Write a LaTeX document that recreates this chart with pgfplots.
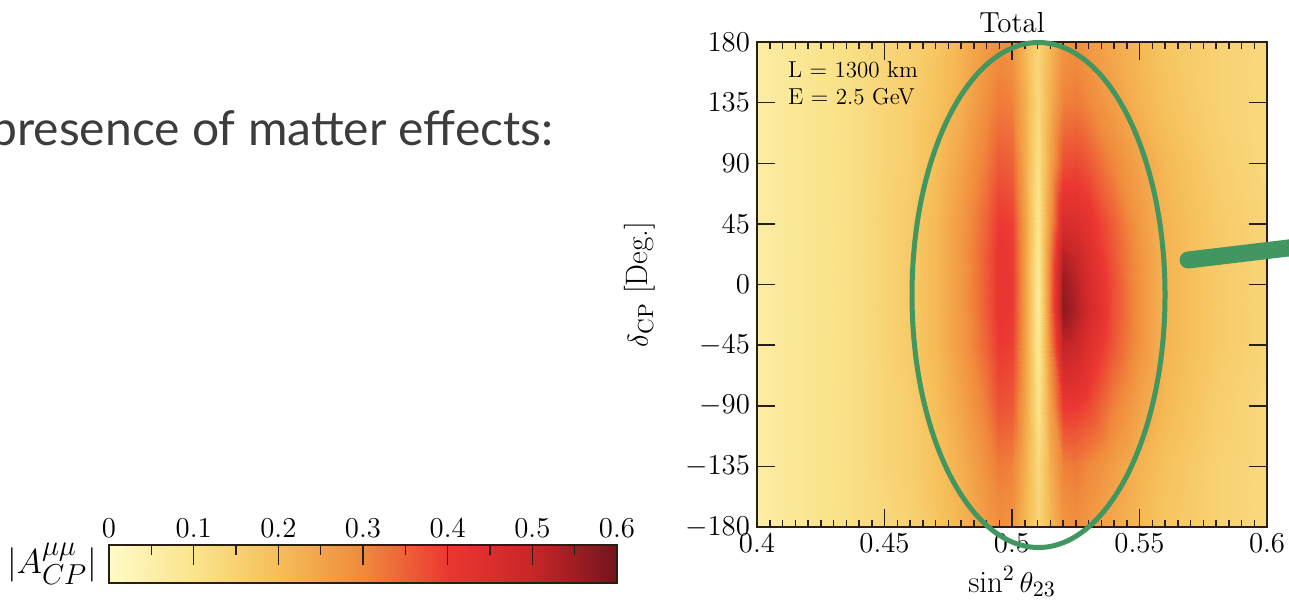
\documentclass[border=0pt]{standalone}
\usepackage{pgfplots}
\pgfplotsset{compat=1.18}
\usepackage{fontspec}
\newfontfamily\slidefont{Lato}
\definecolor{ellgreen}{RGB}{66,150,95}
\definecolor{slidetext}{RGB}{60,60,60}
\definecolor{frame}{RGB}{40,30,20}
\pgfplotsset{
  colormap={acp}{rgb255(0)=(255,250,200) rgb255(1)=(250,228,140) rgb255(2)=(246,190,88) rgb255(3)=(240,138,60) rgb255(4)=(235,55,50) rgb255(5)=(200,38,40) rgb255(6)=(115,20,30)},
}
\begin{document}
\begin{tikzpicture}
\clip (0pt,0pt) rectangle (644.5pt,303pt);
\path[use as bounding box] (0pt,0pt) rectangle (644.5pt,303pt);
\coordinate (mainSW) at (378.5pt,39.5pt);
\coordinate (barSW) at (54.5pt,11.5pt);

\node[anchor=base west, inner sep=0, text=slidetext, font=\slidefont\fontsize{24}{27}\selectfont] at (-5pt,230pt) {presence of matter effects:};

% main heat map
\begin{axis}[
  at={(mainSW)}, anchor=south west, scale only axis,
  width=255pt, height=242.5pt,
  xmin=0.4, xmax=0.6, ymin=-180, ymax=180,
  xtick={0.4,0.45,0.5,0.55,0.6},
  minor x tick num=9,
  ytick={-180,-135,-90,-45,0,45,90,135,180},
  tick align=inside,
  major tick length=9pt, minor tick length=3.5pt,
  tick style={frame, line width=0.75pt},
  axis line style={frame, line width=0.9pt},
  axis on top,
  colormap name=acp,
  point meta min=0, point meta max=0.6,
  tick label style={font=\fontsize{15.5}{18}\selectfont},
  label style={font=\fontsize{15.5}{18}\selectfont},
  ylabel style={yshift=8pt},
  title style={font=\fontsize{14.5}{17}\selectfont, yshift=-5pt},
  title={Total},
  xlabel={$\sin^2\theta_{23}$},
  ylabel={$\delta_{\mathrm{CP}}$ [Deg.]},
]
\addplot[surf, shader=interp, mesh/cols=20, point meta=explicit] table[x=x, y=y, meta=c] {
x y c
0.40 -180 0.06
0.42 -180 0.09
0.44 -180 0.12
0.46 -180 0.15
0.47 -180 0.18
0.48 -180 0.22
0.49 -180 0.27
0.495 -180 0.29
0.50 -180 0.28
0.505 -180 0.21
0.51 -180 0.14
0.515 -180 0.21
0.52 -180 0.28
0.525 -180 0.29
0.53 -180 0.27
0.54 -180 0.24
0.55 -180 0.21
0.56 -180 0.18
0.58 -180 0.15
0.60 -180 0.13

0.40 -135 0.06
0.42 -135 0.09
0.44 -135 0.12
0.46 -135 0.16
0.47 -135 0.19
0.48 -135 0.23
0.49 -135 0.29
0.495 -135 0.32
0.50 -135 0.31
0.505 -135 0.23
0.51 -135 0.13
0.515 -135 0.23
0.52 -135 0.31
0.525 -135 0.32
0.53 -135 0.30
0.54 -135 0.26
0.55 -135 0.22
0.56 -135 0.19
0.58 -135 0.15
0.60 -135 0.13

0.40 -90 0.06
0.42 -90 0.09
0.44 -90 0.12
0.46 -90 0.16
0.47 -90 0.20
0.48 -90 0.25
0.49 -90 0.32
0.495 -90 0.37
0.50 -90 0.36
0.505 -90 0.25
0.51 -90 0.10
0.515 -90 0.26
0.52 -90 0.40
0.525 -90 0.40
0.53 -90 0.38
0.54 -90 0.31
0.55 -90 0.25
0.56 -90 0.21
0.58 -90 0.16
0.60 -90 0.13

0.40 -45 0.06
0.42 -45 0.09
0.44 -45 0.12
0.46 -45 0.17
0.47 -45 0.21
0.48 -45 0.27
0.49 -45 0.35
0.495 -45 0.40
0.50 -45 0.39
0.505 -45 0.26
0.51 -45 0.08
0.515 -45 0.30
0.52 -45 0.51
0.525 -45 0.49
0.53 -45 0.44
0.54 -45 0.36
0.55 -45 0.28
0.56 -45 0.22
0.58 -45 0.17
0.60 -45 0.14

0.40 -20 0.06
0.42 -20 0.09
0.44 -20 0.12
0.46 -20 0.17
0.47 -20 0.21
0.48 -20 0.27
0.49 -20 0.36
0.495 -20 0.41
0.50 -20 0.40
0.505 -20 0.26
0.51 -20 0.07
0.515 -20 0.32
0.52 -20 0.57
0.525 -20 0.53
0.53 -20 0.47
0.54 -20 0.37
0.55 -20 0.28
0.56 -20 0.22
0.58 -20 0.17
0.60 -20 0.14

0.40 0 0.06
0.42 0 0.09
0.44 0 0.12
0.46 0 0.17
0.47 0 0.21
0.48 0 0.27
0.49 0 0.36
0.495 0 0.41
0.50 0 0.40
0.505 0 0.26
0.51 0 0.07
0.515 0 0.32
0.52 0 0.56
0.525 0 0.52
0.53 0 0.46
0.54 0 0.37
0.55 0 0.28
0.56 0 0.22
0.58 0 0.17
0.60 0 0.14

0.40 20 0.06
0.42 20 0.09
0.44 20 0.12
0.46 20 0.17
0.47 20 0.21
0.48 20 0.27
0.49 20 0.36
0.495 20 0.41
0.50 20 0.40
0.505 20 0.26
0.51 20 0.08
0.515 20 0.31
0.52 20 0.53
0.525 20 0.50
0.53 20 0.45
0.54 20 0.36
0.55 20 0.28
0.56 20 0.22
0.58 20 0.17
0.60 20 0.14

0.40 45 0.06
0.42 45 0.09
0.44 45 0.12
0.46 45 0.17
0.47 45 0.21
0.48 45 0.27
0.49 45 0.35
0.495 45 0.40
0.50 45 0.39
0.505 45 0.26
0.51 45 0.09
0.515 45 0.28
0.52 45 0.46
0.525 45 0.45
0.53 45 0.42
0.54 45 0.35
0.55 45 0.27
0.56 45 0.22
0.58 45 0.17
0.60 45 0.14

0.40 90 0.06
0.42 90 0.09
0.44 90 0.12
0.46 90 0.16
0.47 90 0.20
0.48 90 0.25
0.49 90 0.32
0.495 90 0.36
0.50 90 0.35
0.505 90 0.24
0.51 90 0.11
0.515 90 0.25
0.52 90 0.37
0.525 90 0.38
0.53 90 0.36
0.54 90 0.30
0.55 90 0.25
0.56 90 0.21
0.58 90 0.16
0.60 90 0.13

0.40 135 0.06
0.42 135 0.09
0.44 135 0.12
0.46 135 0.16
0.47 135 0.19
0.48 135 0.23
0.49 135 0.29
0.495 135 0.32
0.50 135 0.31
0.505 135 0.23
0.51 135 0.13
0.515 135 0.23
0.52 135 0.31
0.525 135 0.32
0.53 135 0.30
0.54 135 0.26
0.55 135 0.22
0.56 135 0.19
0.58 135 0.15
0.60 135 0.13

0.40 180 0.06
0.42 180 0.09
0.44 180 0.12
0.46 180 0.15
0.47 180 0.18
0.48 180 0.22
0.49 180 0.27
0.495 180 0.29
0.50 180 0.28
0.505 180 0.21
0.51 180 0.14
0.515 180 0.21
0.52 180 0.28
0.525 180 0.29
0.53 180 0.27
0.54 180 0.24
0.55 180 0.21
0.56 180 0.18
0.58 180 0.15
0.60 180 0.13
};
\node[anchor=west, inner sep=0, font=\fontsize{11.5}{13}\selectfont] at (rel axis cs:0.06,0.942) {L = 1300 km};
\node[anchor=west, inner sep=0, font=\fontsize{11.5}{13}\selectfont] at (rel axis cs:0.06,0.887) {E = 2.5 GeV};
\end{axis}

% colour bar
\begin{axis}[
  at={(barSW)}, anchor=south west, scale only axis,
  width=254pt, height=19pt,
  xmin=0, xmax=0.6, ymin=0, ymax=1,
  axis on top,
  colormap name=acp,
  point meta min=0, point meta max=0.6,
  xtick={0,0.1,0.2,0.3,0.4,0.5,0.6},
  minor x tick num=1,
  ytick=\empty,
  xtick pos=right, xticklabel pos=right,
  tick align=inside,
  major tick length=10pt, minor tick length=5pt,
  tick style={frame, line width=0.75pt},
  axis line style={frame, line width=0.9pt},
  tick label style={font=\fontsize{15.5}{18}\selectfont},
]
\addplot[surf, shader=interp, mesh/cols=7, point meta=explicit] table[x=x, y=y, meta=c] {
x y c
0 0 0
0.1 0 0.1
0.2 0 0.2
0.3 0 0.3
0.4 0 0.4
0.5 0 0.5
0.6 0 0.6

0 1 0
0.1 1 0.1
0.2 1 0.2
0.3 1 0.3
0.4 1 0.4
0.5 1 0.5
0.6 1 0.6
};
\end{axis}
\node[font=\fontsize{19}{22}\selectfont] at (26pt,21pt) {$|A^{\mu\mu}_{CP}|$};

% annotations
\draw[ellgreen, line width=2.5pt] (519.25pt,155.5pt) ellipse [x radius=63.25pt, y radius=126.25pt];
\draw[ellgreen, line width=8.5pt, line cap=round] (594pt,173pt) -- (650pt,179.7pt);
\end{tikzpicture}
\end{document}
